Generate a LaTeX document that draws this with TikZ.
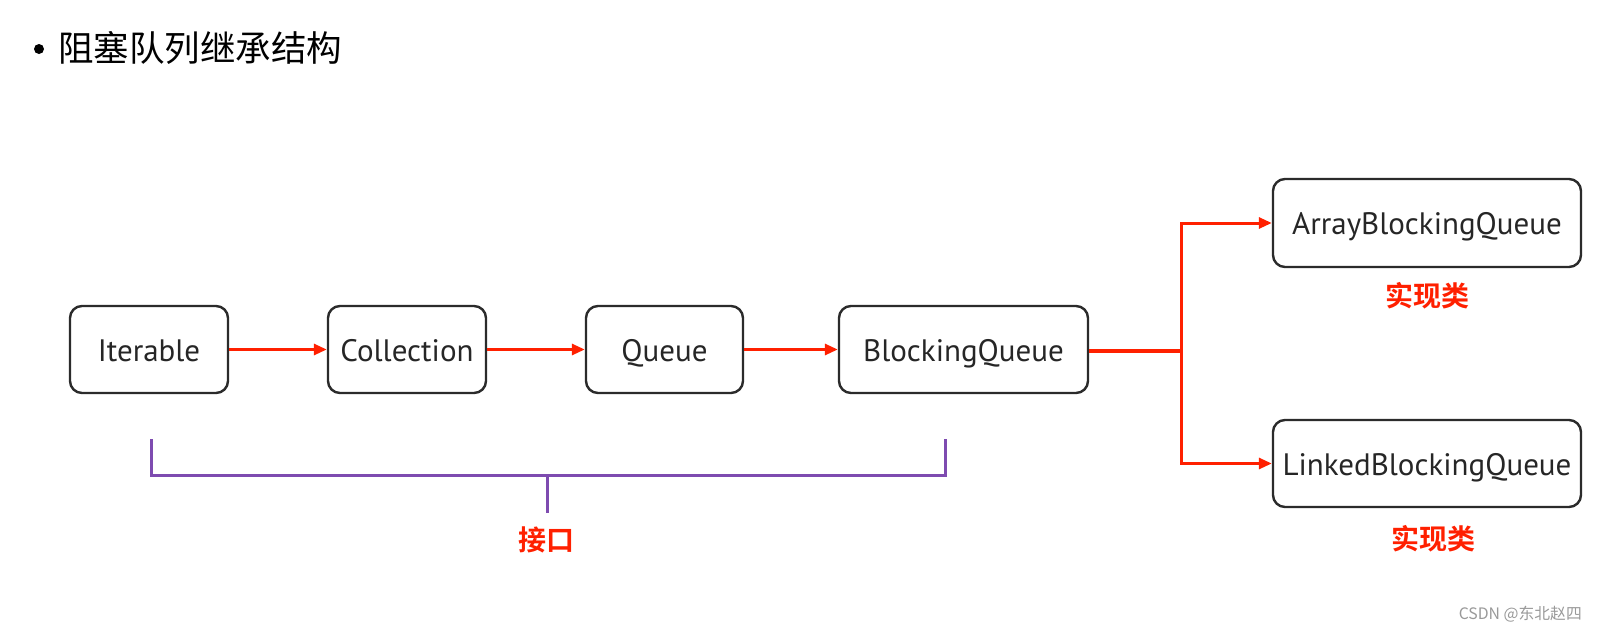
\documentclass[tikz,border=0pt]{standalone}
\usepackage{fontspec}
\setmainfont{PT Sans}
\newfontfamily\cjk{Noto Sans CJK SC}
\newfontfamily\cjkb{Noto Sans CJK SC Bold}
\usetikzlibrary{arrows.meta}
\definecolor{boxline}{HTML}{2B2B2B}
\definecolor{redline}{HTML}{FF2000}
\definecolor{purp}{HTML}{7E4BB0}
\tikzset{
  box/.style={draw=boxline, line width=2.4pt, rounded corners=12pt, inner sep=0pt,
    text height=23pt, text depth=0pt,
    font=\fontsize{31}{34}\selectfont, text=black!85},
  link/.style={draw=redline, line width=3pt, -{Triangle[length=13pt,width=11pt]}},
  redlbl/.style={text=redline, font=\cjkb\fontsize{28}{30}\selectfont},
  brk/.style={draw=purp, line width=3pt}
}
\begin{document}
\begin{tikzpicture}[x=1pt,y=-1pt]
\useasboundingbox (0,0) rectangle (1610,632);
\fill[black] (39,49) circle (5);
\node[anchor=west, font=\cjk\fontsize{35.5}{38}\selectfont, inner sep=0pt] (title) at (58,48) {阻塞队列继承结构};

\node[box, minimum width=158pt, minimum height=87pt] (it) at (149,349.5) {Iterable};
\node[box, minimum width=158pt, minimum height=87pt] (col) at (407,349.5) {Collection};
\node[box, minimum width=157pt, minimum height=87pt] (q) at (664.5,349.5) {Queue};
\node[box, minimum width=249pt, minimum height=87pt] (bq) at (963.5,349.5) {BlockingQueue};
\node[box, minimum width=308pt, minimum height=88pt] (abq) at (1427,223) {ArrayBlockingQueue};
\node[box, minimum width=308pt, minimum height=87pt] (lbq) at (1427,463.5) {LinkedBlockingQueue};

\draw[link] (it.east) -- (col.west);
\draw[link] (col.east) -- (q.west);
\draw[link] (q.east) -- (bq.west);

\coordinate (j) at (1181,351);
\draw[draw=redline, line width=4.5pt] (bq.east |- j) -- (j);
\draw[link] (j) |- (abq.west);
\draw[link] (j) |- (lbq.west);

\node[redlbl] (l1) at (1427,296) {实现类};
\node[redlbl] (l2) at (1433,539) {实现类};

\coordinate (bl) at (151,439);
\coordinate (br) at (945,439);
\coordinate (stem) at (547,513);
\draw[brk] (bl) -- (151,475) -- (945,475) -- (br);
\draw[brk] (547,475) -- (stem);
\node[redlbl] (l3) at (546,540) {接口};

\node[anchor=east, text=black!40, font=\cjk\fontsize{15.8}{17}\selectfont, inner sep=0pt] (wm) at (1582,614) {CSDN @东北赵四};
\end{tikzpicture}
\end{document}
